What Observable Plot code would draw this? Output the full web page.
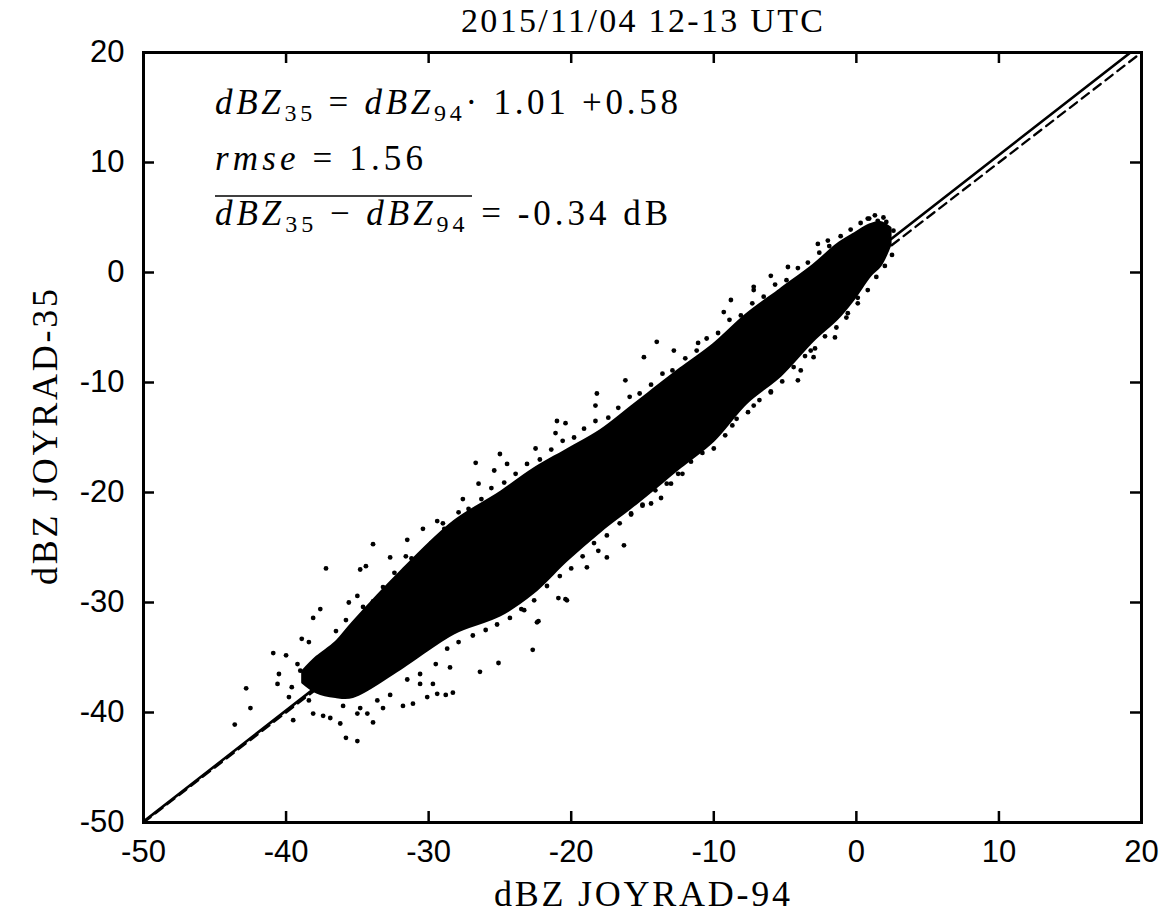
<!DOCTYPE html>
<html><head><meta charset="utf-8">
<script src="https://cdn.jsdelivr.net/npm/d3@7"></script>
<script src="https://cdn.jsdelivr.net/npm/@observablehq/plot@0.6"></script>
<style>
html,body{margin:0;padding:0;background:#fff;}
#chart svg{display:block;}
</style></head><body><div id="chart"></div>
<script>
const title = "2015/11/04 12-13 UTC";
const xLabel = "dBZ JOYRAD-94";
const yLabel = "dBZ JOYRAD-35";
const xTicks = [-50, -40, -30, -20, -10, 0, 10, 20];
const yTicks = [-50, -40, -30, -20, -10, 0, 10, 20];
const tickLabels = ["-50", "-40", "-30", "-20", "-10", "0", "10", "20"];
const fitSlope = 1.01, fitOffset = 0.58, rmse = 1.56, meanBias = -0.34;

// dense core of the point cloud: x, lower edge, upper edge
const coreX    = [-38.8, -37.8, -36.5, -35.3, -31.8, -28.2, -25.0, -22.7, -20.3, -17.9, -15.6, -12.3, -10.0, -7.7, -5.3, -3.0, -1.3, -0.2, 1.0, 1.7, 2.4];
const coreHigh = [-36.3, -35.0, -33.7, -31.9, -27.1, -22.7, -20.1, -18.0, -16.2, -14.4, -12.1, -8.8, -6.6, -3.9, -1.6, 0.6, 2.5, 3.4, 4.3, 4.5, 4.0];
const coreLow  = [-37.3, -38.2, -38.6, -38.6, -35.9, -32.8, -31.2, -29.2, -26.2, -23.5, -21.2, -17.7, -15.3, -11.9, -9.4, -6.2, -4.2, -2.5, -0.3, 0.6, 2.5];

// scattered individual points around the core
const scatterX = [-33.9, -37.2, -34.8, -34.4, -32.7, -31.6, -37.6, -38.1, -35.6, -35.0, -38.9, -38.4, -40.9, -40.0, -40.5, -40.6, -42.8, -42.5, -43.6, -39.6,
  -39.8, -39.5, -38.4, -38.1, -37.4, -36.9, -36.2, -35.8, -35.0, -35.0, -34.3, -33.9, -33.2, -31.8, -31.1, -30.1, -29.4, -28.8, -28.3, -30.6,
  -29.7, -28.5, -39.0, -39.2, -31.5, -30.4, -29.4, -29.0, -27.6, -26.5, -22.7, -22.3, -20.4, -20.9, -18.9, -18.1, -25.1, -26.4, -26.7, -25.0,
  -24.5, -25.4, -21.0, -20.4, -21.1, -22.5, -16.3, -17.5, -20.3, -22.4, -23.3, -15.8, -14.0, -14.9, -16.2, -18.2, -18.3, -8.8, -7.2, -9.3,
  -11.1, -12.8, -3.0, -3.2, -4.1, -6.0, -7.2, -8.7, -10.0, -12.2, -13.0, -13.7, -14.4, -15.0, -6.0, -4.8, -2.7, -2.0, -1.5, -0.6,
  -3.9, 0.1, 0.8, 1.5, 1.9, -7.2];
const scatterY = [-24.7, -26.9, -27.0, -26.7, -25.9, -25.8, -30.6, -31.4, -30.0, -29.4, -33.3, -33.6, -34.6, -34.8, -36.5, -37.4, -37.8, -39.6, -41.1, -37.7,
  -38.6, -40.7, -38.9, -40.1, -40.3, -40.5, -41.0, -42.3, -42.6, -40.1, -40.1, -40.9, -39.6, -39.4, -39.2, -38.6, -38.3, -38.4, -38.2, -37.4,
  -37.4, -35.9, -36.2, -35.6, -24.3, -23.3, -22.6, -22.8, -20.6, -19.2, -34.3, -31.7, -29.7, -29.6, -26.8, -25.3, -35.5, -36.3, -17.3, -16.5,
  -17.4, -18.0, -13.5, -13.7, -14.6, -16.0, -24.8, -25.9, -29.8, -31.8, -30.7, -21.9, -6.3, -7.7, -9.8, -11.0, -12.1, -2.5, -1.3, -3.6,
  -6.4, -7.1, -7.7, -7.1, -9.8, -10.9, -12.1, -13.9, -15.0, -18.3, -19.2, -20.5, -21.0, -21.1, -0.3, 0.5, 2.6, 2.9, -5.9, -3.7,
  -8.9, -2.3, 4.9, 4.7, 5.0, -1.6];

// points just outside the upper edge of the core (ragged border)
const upperEdgeX = [-36.5, -35.8, -34.6, -33.9, -33.2, -32.4, -31.2, -30.5, -29.8, -28.9, -27.9, -27.2, -26.3, -25.6, -24.7, -23.9, -23.1, -22.2, -21.4, -20.6,
  -19.8, -19.1, -18.3, -17.4, -16.7, -15.9, -15.2, -14.4, -13.6, -12.9, -12.0, -11.2, -10.5, -9.7, -8.9, -8.1, -7.3, -6.5, -5.7, -4.9,
  -4.1, -3.4, -2.6, -1.9, -1.1, -0.4, 0.3, 0.9, 1.3, 2.1, 2.6];
const upperEdgeY = [-32.6, -31.6, -30.4, -29.9, -28.6, -27.3, -26.0, -25.6, -24.6, -23.3, -21.8, -21.5, -20.6, -19.6, -19.1, -18.3, -17.4, -17.0, -16.1, -15.3,
  -15.0, -14.2, -13.5, -13.2, -12.3, -11.3, -11.0, -10.2, -9.2, -8.9, -7.8, -7.1, -6.0, -5.5, -4.3, -3.9, -2.8, -2.2, -1.1, -0.7,
  0.4, 0.9, 1.8, 2.4, 3.3, 3.9, 4.5, 4.9, 5.2, 4.6, 3.8];
// points just outside the lower edge of the core (ragged border)
const lowerEdgeX = [-36.0, -34.8, -33.6, -32.7, -31.5, -30.6, -29.5, -28.7, -27.9, -26.9, -26.0, -25.2, -24.3, -23.5, -22.6, -21.7, -20.8, -20.0, -19.2, -18.4,
  -17.5, -16.6, -15.8, -15.0, -14.1, -13.3, -12.5, -11.6, -10.8, -10.0, -9.2, -8.4, -7.6, -6.8, -6.0, -5.2, -4.4, -3.6, -2.9, -2.2,
  -1.4, -0.7, 0.1, 0.8, 1.4, 2.0, 2.5];
const lowerEdgeY = [-39.4, -39.6, -38.9, -38.4, -37.0, -36.5, -35.6, -34.2, -33.6, -33.0, -32.5, -32.0, -31.4, -30.6, -29.8, -28.5, -27.6, -26.9, -25.8, -24.6,
  -23.9, -22.8, -22.0, -21.2, -19.8, -19.2, -18.3, -17.2, -16.4, -16.0, -14.8, -13.3, -12.7, -11.6, -10.8, -9.9, -8.6, -7.6, -6.9, -5.8,
  -5.0, -4.1, -2.8, -1.6, -0.4, 0.6, 1.6];

const core = coreX.map((x, i) => ({x, lo: coreLow[i], hi: coreHigh[i]}));
const points = [
  ...scatterX.map((x, i) => ({x, y: scatterY[i]})),
  ...upperEdgeX.map((x, i) => ({x, y: upperEdgeY[i]})),
  ...lowerEdgeX.map((x, i) => ({x, y: lowerEdgeY[i]}))
];
const fitLine = [{x: -50}, {x: 20}].map(d => ({x: d.x, y: fitSlope * d.x + fitOffset}));
const oneToOne = [{x: -50, y: -50}, {x: 20, y: 20}];
const fmt = d => tickLabels[xTicks.indexOf(d)];

const M = {left: 143, right: 25, top: 52, bottom: 98};
const W = 1166, H = 920;
const fw = W - M.left - M.right, fh = H - M.top - M.bottom;
const tickLen = 11;

const chart = Plot.plot({
  width: W, height: H,
  marginLeft: M.left, marginRight: M.right, marginTop: M.top, marginBottom: M.bottom,
  x: {domain: [-50, 20]},
  y: {domain: [-50, 20]},
  style: {fontFamily: "'Liberation Sans', Arial, sans-serif", fontSize: "31px", color: "black", background: "white"},
  marks: [
    Plot.areaY(core, {x: "x", y1: "lo", y2: "hi", fill: "black", stroke: "black", strokeWidth: 3, strokeLinejoin: "round", curve: "catmull-rom"}),
    Plot.dot(points, {x: "x", y: "y", r: 2.4, fill: "black"}),
    Plot.line(oneToOne, {x: "x", y: "y", stroke: "black", strokeWidth: 2.3, strokeDasharray: "9,6", clip: true}),
    Plot.line(fitLine, {x: "x", y: "y", stroke: "black", strokeWidth: 2.6, clip: true}),
    Plot.tickX(xTicks, {x: d => d, insetTop: fh - tickLen, stroke: "black", strokeWidth: 2.5}),
    Plot.tickX(xTicks, {x: d => d, insetBottom: fh - tickLen, stroke: "black", strokeWidth: 2.5}),
    Plot.tickY(yTicks, {y: d => d, insetLeft: fw - tickLen, stroke: "black", strokeWidth: 2.5}),
    Plot.tickY(yTicks, {y: d => d, insetRight: fw - tickLen, stroke: "black", strokeWidth: 2.5}),
    Plot.frame({stroke: "black", strokeWidth: 3}),
    Plot.axisX(xTicks, {tickSize: 0, tickPadding: 17, tickFormat: fmt, label: null, fontSize: 31}),
    Plot.axisY(yTicks, {tickSize: 0, tickPadding: 19, tickFormat: fmt, label: null, fontSize: 31})
  ]
});
document.getElementById("chart").appendChild(chart);

const svg = d3.select(chart);
const serif = "'Liberation Serif', 'Times New Roman', serif";
const cx = M.left + fw / 2;

svg.append("text").attr("x", cx).attr("y", 32).attr("text-anchor", "middle")
  .attr("font-family", serif).attr("font-size", 34).attr("fill", "black")
  .attr("textLength", 362).attr("lengthAdjust", "spacing").text(title);

svg.append("text").attr("x", cx).attr("y", 906).attr("text-anchor", "middle")
  .attr("font-family", serif).attr("font-size", 36).attr("fill", "black")
  .attr("textLength", 296).attr("lengthAdjust", "spacing").text(xLabel);

svg.append("text").attr("transform", `translate(57,${M.top + fh / 2}) rotate(-90)`).attr("text-anchor", "middle")
  .attr("font-family", serif).attr("font-size", 36).attr("fill", "black")
  .attr("textLength", 296).attr("lengthAdjust", "spacing").text(yLabel);

function mathText(x, y, len, parts) {
  const t = svg.append("text").attr("x", x).attr("y", y).attr("text-anchor", "start")
    .attr("font-family", serif).attr("font-size", 35).attr("fill", "black")
    .style("white-space", "pre").attr("textLength", len).attr("lengthAdjust", "spacing");
  let shifted = false;
  for (const p of parts) {
    const s = t.append("tspan").text(p.t);
    if (p.i) s.attr("font-style", "italic");
    if (p.sub) { s.attr("font-size", 24).attr("dy", 7); shifted = true; }
    else if (shifted) { s.attr("dy", -7); shifted = false; }
  }
}
mathText(215, 114, 463, [
  {t: "dBZ", i: true}, {t: "35", sub: true}, {t: " = "}, {t: "dBZ", i: true}, {t: "94", sub: true},
  {t: "· " + fitSlope.toFixed(2) + " +" + fitOffset.toFixed(2)}
]);
mathText(215, 170, 208, [{t: "rmse", i: true}, {t: " = " + rmse.toFixed(2)}]);
mathText(215, 225, 453, [
  {t: "dBZ", i: true}, {t: "35", sub: true}, {t: " − "}, {t: "dBZ", i: true}, {t: "94", sub: true},
  {t: " = " + meanBias.toFixed(2) + " dB"}
]);
svg.append("line").attr("x1", 215).attr("x2", 472).attr("y1", 196).attr("y2", 196)
  .attr("stroke", "black").attr("stroke-width", 1.6);
</script></body></html>
